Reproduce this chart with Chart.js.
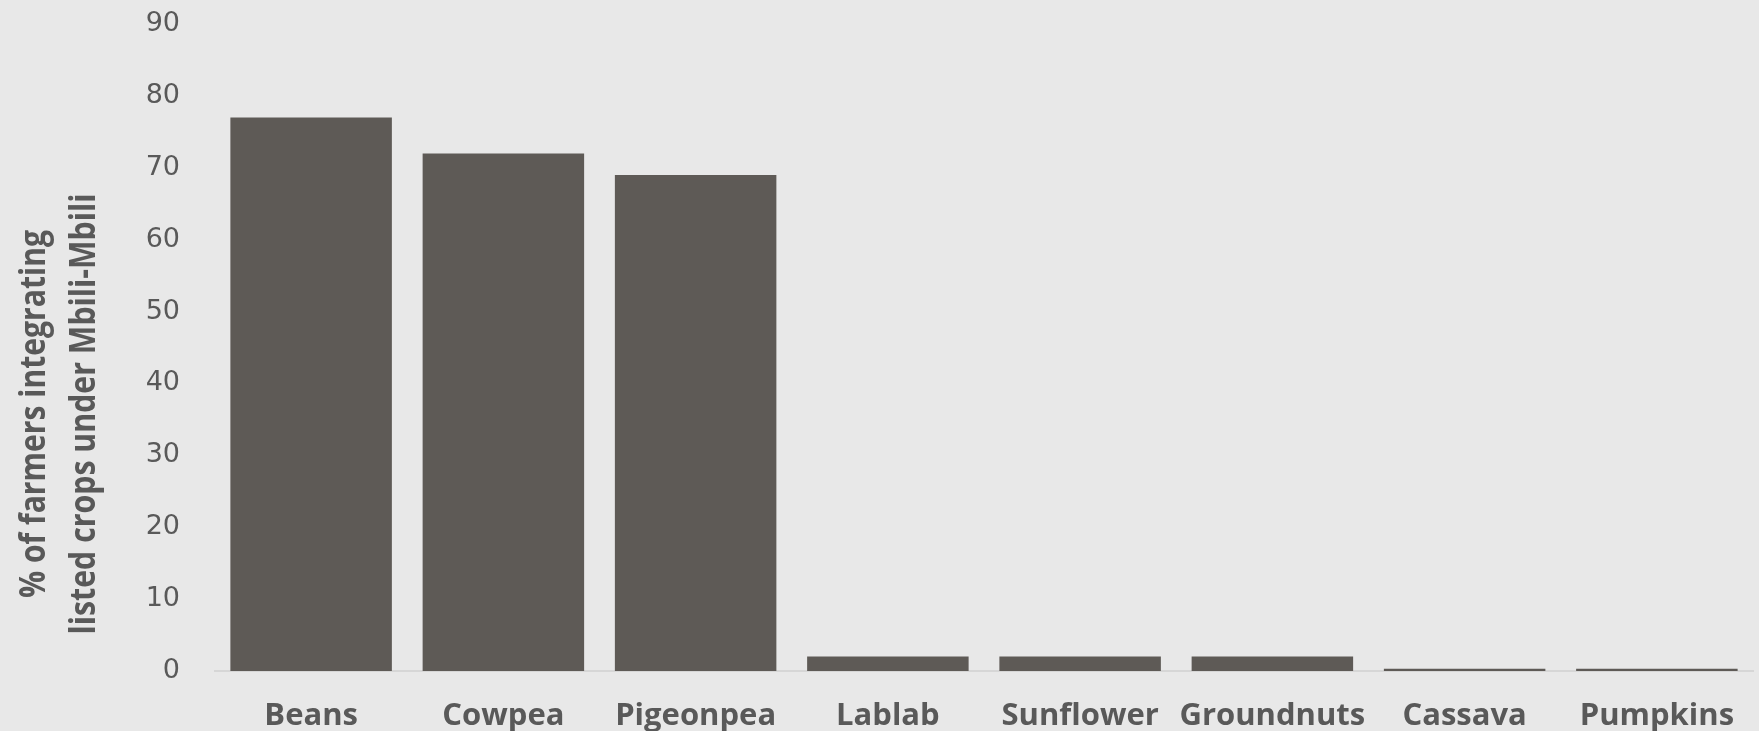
<!DOCTYPE html>
<html>
<head>
<meta charset="utf-8">
<script src="https://cdn.jsdelivr.net/npm/chart.js@4/dist/chart.umd.min.js"></script>
<style>
  html, body { margin: 0; padding: 0; background: #e8e8e8; overflow: hidden; }
  #wrap { width: 1759px; height: 731px; }
</style>
</head>
<body>
<div id="wrap"><canvas id="c" width="1759" height="731"></canvas></div>
<script>
const categories = ["Beans", "Cowpea", "Pigeonpea", "Lablab", "Sunflower", "Groundnuts", "Cassava", "Pumpkins"];
const percentFarmers = [77, 72, 69, 2, 2, 2, 0.3, 0.3];
const yTitleLines = ["% of farmers integrating", "listed crops under Mbili-Mbili"];
const yMin = 0, yMax = 90, yStep = 10;

const textColor = "#595959";

const yTitlePlugin = {
  id: "yTitle",
  afterDraw(chart) {
    const ctx = chart.ctx;
    ctx.save();
    ctx.fillStyle = textColor;
    ctx.font = "bold 36px 'Open Sans', sans-serif";
    ctx.textAlign = "center";
    ctx.textBaseline = "alphabetic";
    const cy = 414;
    const baselines = [45, 95];
    const maxW = [368, 441];
    yTitleLines.forEach((t, i) => {
      ctx.save();
      ctx.translate(baselines[i], cy);
      ctx.rotate(-Math.PI / 2);
      ctx.fillText(t, 0, 0, maxW[i]);
      ctx.restore();
    });
    ctx.restore();
  }
};

new Chart(document.getElementById("c"), {
  type: "bar",
  data: {
    labels: categories,
    datasets: [{
      data: percentFarmers,
      backgroundColor: "#5e5a56",
      borderWidth: 0,
      categoryPercentage: 1.0,
      barPercentage: 0.84
    }]
  },
  options: {
    responsive: false,
    animation: false,
    layout: { padding: { top: 24, right: 6, left: 0, bottom: 0 } },
    plugins: { legend: { display: false }, tooltip: { enabled: false } },
    scales: {
      x: {
        grid: { display: false, drawTicks: false },
        border: { display: true, color: "#d6d6d6", width: 2 },
        ticks: {
          color: textColor,
          font: { family: "'Open Sans', sans-serif", size: 31, weight: "bold" },
          padding: 27,
          maxRotation: 0,
          autoSkip: false
        },
        afterFit(s) { s.height = 60; s.paddingLeft = 0; s.paddingRight = 0; }
      },
      y: {
        min: yMin, max: yMax,
        grid: { display: false, drawTicks: false },
        border: { display: false },
        ticks: {
          stepSize: yStep,
          color: textColor,
          font: { family: "'DejaVu Sans', sans-serif", size: 27 },
          padding: 35
        },
        afterFit(s) { s.width = 215; s.paddingTop = 0; s.paddingBottom = 0; }
      }
    }
  },
  plugins: [yTitlePlugin]
});
</script>
</body>
</html>
